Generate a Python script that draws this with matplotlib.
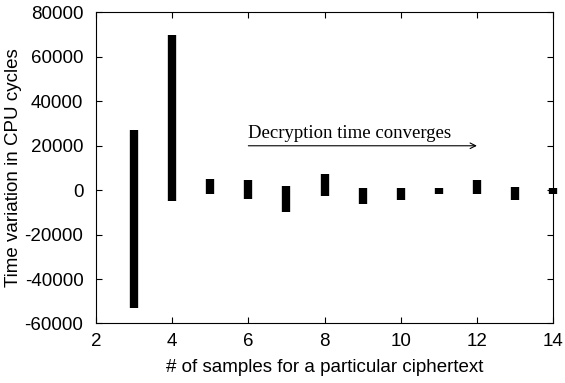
import matplotlib
matplotlib.use("Agg")
import matplotlib.pyplot as plt

samples = [3, 4, 5, 6, 7, 8, 9, 10, 11, 12, 13, 14]
var_max = [27000, 70000, 5000, 4500, 2000, 7500, 1000, 1000, 900, 4500, 1300, 900]
var_min = [-53000, -5000, -1800, -4000, -10000, -2700, -6000, -4500, -1800, -1800, -4600, -1800]
xticks = [2, 4, 6, 8, 10, 12, 14]
yticks = [-60000, -40000, -20000, 0, 20000, 40000, 60000, 80000]

plt.rcParams['font.family'] = ['Liberation Sans', 'DejaVu Sans']
plt.rcParams['axes.unicode_minus'] = False

fig = plt.figure(figsize=(5.65, 3.83), dpi=100)
ax = fig.add_axes([0.1699, 0.1554, 0.809, 0.812])

ax.vlines(samples, var_min, var_max, colors='black', linewidth=6, clip_on=False)

ax.set_xlim(2, 14)
ax.set_ylim(-60000, 80000)
ax.set_xticks(xticks)
ax.set_yticks(yticks)
ax.tick_params(direction='in', top=True, right=True, length=4, width=0.8,
               labelsize=13.5)
ax.tick_params(axis='y', pad=9)
ax.tick_params(axis='x', pad=7)
for s in ax.spines.values():
    s.set_linewidth(0.8)

ax.set_xlabel('# of samples for a particular ciphertext', fontsize=13.5, labelpad=6)
ax.set_ylabel('Time variation in CPU cycles', fontsize=13.5, labelpad=2)

ax.annotate('', xy=(12, 20000), xytext=(6, 20000),
            arrowprops=dict(arrowstyle='->', color='black', lw=0.8,
                            shrinkA=0, shrinkB=0))
ax.text(6, 21800, 'Decryption time converges', fontsize=13.5,
        fontfamily='Liberation Serif', ha='left', va='bottom')

fig.savefig('out.png', dpi=100)
